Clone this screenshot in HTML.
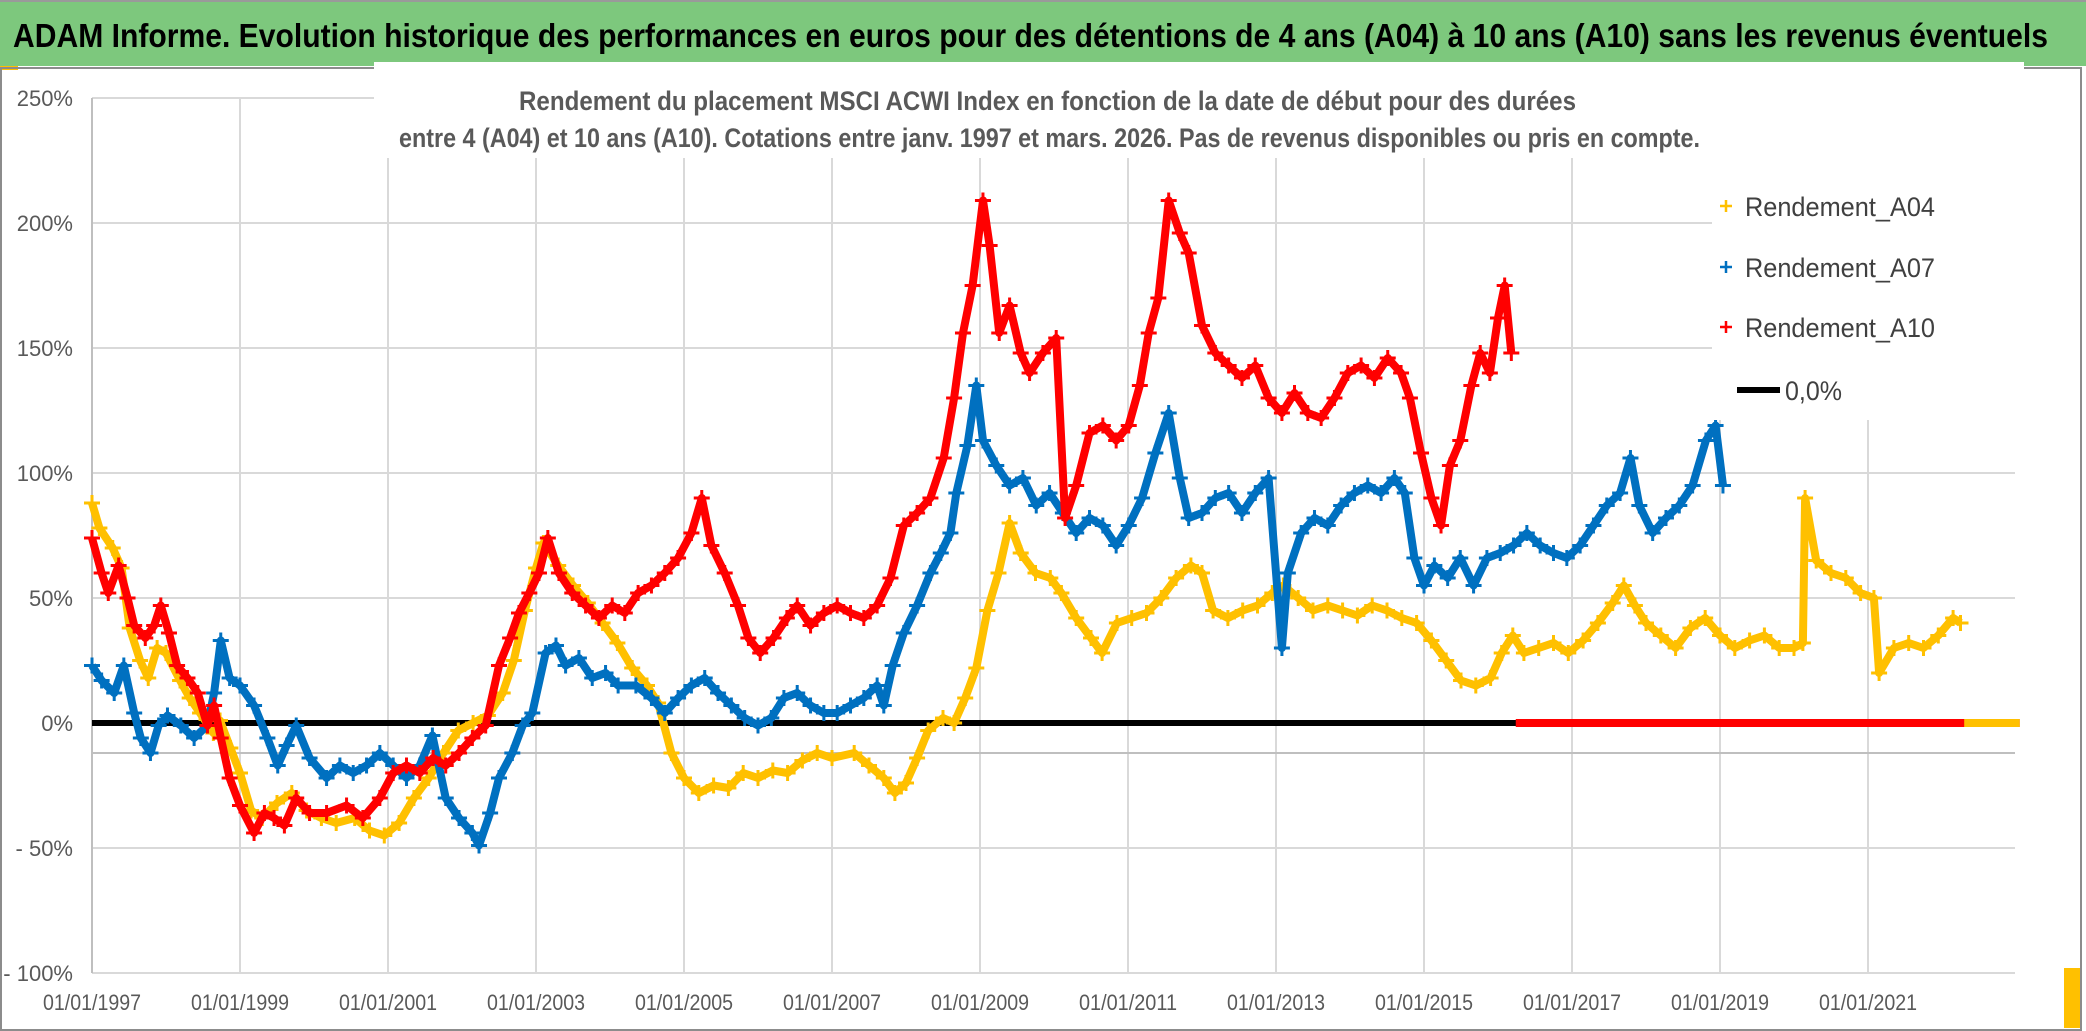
<!DOCTYPE html>
<html><head><meta charset="utf-8"><style>
html,body{margin:0;padding:0;background:#fff;}
svg{display:block;font-family:"Liberation Sans",sans-serif;}
</style></head><body>
<svg id="chart" width="2086" height="1031" viewBox="0 0 2086 1031">
<rect x="0" y="0" width="2086" height="1031" fill="#ffffff"/>
<rect x="0" y="0" width="2086" height="66" fill="#7dc87d"/>
<line x1="0" y1="1" x2="2086" y2="1" stroke="#9a9a9a" stroke-width="2"/>
<text x="13" y="47" font-size="33" font-weight="bold" fill="#000" textLength="2035" lengthAdjust="spacingAndGlyphs">ADAM Informe. Evolution historique des performances en euros pour des détentions de 4 ans (A04) à 10 ans (A10) sans les revenus éventuels</text>
<rect x="0" y="66" width="18" height="4" fill="#ffc000"/>
<rect x="1" y="68" width="2080" height="962" fill="none" stroke="#8c8c8c" stroke-width="2"/>
<rect x="2064" y="968" width="16" height="60" fill="#ffc000"/>
<g id="grid"></g>
<g id="yticks"></g>
<g id="xticks"></g>
<g id="marks"></g>
<rect x="374" y="62" width="1650" height="96" fill="#fff"/>
<text x="519" y="110" font-size="27" font-weight="bold" fill="#595959" textLength="1057" lengthAdjust="spacingAndGlyphs">Rendement du placement MSCI ACWI Index en fonction de la date de début pour des durées</text>
<text x="399" y="147" font-size="27" font-weight="bold" fill="#595959" textLength="1301" lengthAdjust="spacingAndGlyphs">entre 4 (A04) et 10 ans (A10). Cotations entre janv. 1997 et mars. 2026. Pas de revenus disponibles ou pris en compte.</text>
<g>
<rect x="1712" y="158" width="310" height="262" fill="#fff"/>
<g><path d="M1720 206h12M1726 200v12" stroke="#ffc000" stroke-width="2.5"/><text x="1745" y="216" font-size="27" fill="#404040" textLength="190" lengthAdjust="spacingAndGlyphs">Rendement_A04</text></g>
<g><path d="M1720 267h12M1726 261v12" stroke="#0070c0" stroke-width="2.5"/><text x="1745" y="277" font-size="27" fill="#404040" textLength="190" lengthAdjust="spacingAndGlyphs">Rendement_A07</text></g>
<g><path d="M1720 327h12M1726 321v12" stroke="#ff0000" stroke-width="2.5"/><text x="1745" y="337" font-size="27" fill="#404040" textLength="190" lengthAdjust="spacingAndGlyphs">Rendement_A10</text></g>
<g><line x1="1737" y1="390" x2="1780" y2="390" stroke="#000" stroke-width="6"/><text x="1785" y="400" font-size="27" fill="#404040" textLength="57" lengthAdjust="spacingAndGlyphs">0,0%</text></g>
</g>
</svg>
<script>
const yTickValues=[250,200,150,100,50,0,-50,-100];
const yTickLabels=["250%","200%","150%","100%","50%","0%","- 50%","- 100%"];
const xTickYears=[1997,1999,2001,2003,2005,2007,2009,2011,2013,2015,2017,2019,2021];
const xTickLabels=["01/01/1997","01/01/1999","01/01/2001","01/01/2003","01/01/2005","01/01/2007","01/01/2009","01/01/2011","01/01/2013","01/01/2015","01/01/2017","01/01/2019","01/01/2021"];
const zeroLine=[0];
const a04Years=[1997.00,1997.10,1997.28,1997.40,1997.51,1997.65,1997.76,1997.88,1998.00,1998.19,1998.32,1998.46,1998.64,1998.73,1998.87,1999.00,1999.15,1999.30,1999.50,1999.70,1999.90,2000.10,2000.30,2000.55,2000.75,2000.95,2001.15,2001.35,2001.55,2001.75,2001.95,2002.15,2002.35,2002.55,2002.70,2002.85,2003.00,2003.10,2003.30,2003.50,2003.70,2003.90,2004.10,2004.30,2004.50,2004.65,2004.83,2005.00,2005.20,2005.40,2005.60,2005.80,2006.00,2006.20,2006.40,2006.60,2006.80,2007.00,2007.30,2007.50,2007.70,2007.85,2008.00,2008.15,2008.30,2008.50,2008.65,2008.80,2008.95,2009.10,2009.25,2009.40,2009.55,2009.75,2009.95,2010.10,2010.30,2010.50,2010.65,2010.85,2011.05,2011.25,2011.45,2011.65,2011.85,2012.00,2012.15,2012.35,2012.55,2012.75,2012.95,2013.10,2013.30,2013.50,2013.70,2013.90,2014.10,2014.30,2014.50,2014.70,2014.90,2015.10,2015.30,2015.50,2015.70,2015.90,2016.05,2016.20,2016.35,2016.55,2016.75,2016.95,2017.15,2017.35,2017.55,2017.70,2017.85,2018.00,2018.20,2018.40,2018.60,2018.80,2019.00,2019.20,2019.40,2019.60,2019.80,2020.00,2020.12,2020.15,2020.30,2020.50,2020.70,2020.90,2021.08,2021.15,2021.35,2021.55,2021.75,2021.95,2022.15,2022.25];
const a04Values=[88,78,70,62,38,25,18,30,28,17,10,4,-4,1,-10,-20,-35,-38,-32,-28,-35,-38,-40,-38,-43,-45,-40,-30,-22,-12,-3,0,3,12,25,45,62,72,63,55,48,40,32,22,15,8,-12,-22,-28,-25,-26,-20,-22,-19,-20,-15,-12,-14,-12,-17,-22,-28,-24,-14,-3,2,0,10,22,45,60,80,68,60,58,52,42,34,28,40,42,44,50,58,63,60,45,42,45,47,52,55,50,45,47,45,43,47,45,42,40,33,25,17,15,18,28,35,28,30,32,28,33,40,48,55,47,40,35,30,38,42,35,30,33,35,30,30,32,90,65,60,58,52,50,20,30,32,30,35,42,40];
const a04ZeroRange=[2022.30,2023.05];
const a07Years=[1997.00,1997.13,1997.30,1997.43,1997.57,1997.66,1997.79,1997.90,1998.02,1998.20,1998.38,1998.56,1998.65,1998.74,1998.86,1999.00,1999.19,1999.37,1999.51,1999.63,1999.76,1999.94,2000.17,2000.35,2000.53,2000.71,2000.89,2001.07,2001.25,2001.43,2001.60,2001.78,2001.96,2002.14,2002.23,2002.38,2002.50,2002.68,2002.82,2002.95,2003.13,2003.27,2003.40,2003.58,2003.76,2003.94,2004.11,2004.35,2004.56,2004.74,2004.92,2005.10,2005.28,2005.46,2005.64,2005.82,2006.00,2006.18,2006.35,2006.53,2006.71,2006.89,2007.07,2007.25,2007.43,2007.61,2007.70,2007.82,2007.97,2008.15,2008.33,2008.47,2008.60,2008.68,2008.83,2008.95,2009.04,2009.22,2009.40,2009.58,2009.76,2009.94,2010.12,2010.30,2010.48,2010.66,2010.84,2011.01,2011.19,2011.37,2011.55,2011.70,2011.82,2012.00,2012.18,2012.36,2012.54,2012.72,2012.90,2013.08,2013.16,2013.34,2013.52,2013.70,2013.88,2014.06,2014.24,2014.42,2014.60,2014.74,2014.87,2015.00,2015.14,2015.32,2015.49,2015.67,2015.85,2016.03,2016.21,2016.39,2016.57,2016.75,2016.93,2017.11,2017.29,2017.47,2017.65,2017.79,2017.91,2018.09,2018.27,2018.45,2018.63,2018.81,2018.94,2019.04];
const a07Values=[23,17,12,23,4,-6,-12,-1,3,-1,-6,-1,12,33,18,15,7,-6,-17,-9,-1,-14,-22,-17,-20,-17,-12,-17,-22,-17,-5,-30,-38,-44,-49,-36,-22,-12,-1,4,28,31,23,26,18,20,15,15,10,4,10,15,18,12,7,2,-1,2,10,12,7,4,4,7,10,15,7,23,36,47,60,68,76,92,111,135,113,103,95,98,87,92,84,76,82,79,71,79,90,108,124,98,82,84,90,92,84,92,98,30,60,76,82,79,87,92,95,92,98,92,66,55,63,58,66,55,66,68,71,76,71,68,66,71,79,87,92,106,87,76,82,87,95,113,119,95];
const a10Years=[1997.00,1997.13,1997.22,1997.36,1997.48,1997.57,1997.72,1997.84,1997.93,1998.04,1998.15,1998.29,1998.43,1998.56,1998.65,1998.74,1998.86,1999.00,1999.19,1999.33,1999.46,1999.60,1999.76,1999.94,2000.17,2000.44,2000.66,2000.89,2001.07,2001.25,2001.43,2001.61,2001.78,2001.96,2002.14,2002.32,2002.50,2002.65,2002.77,2002.91,2003.04,2003.16,2003.31,2003.49,2003.67,2003.85,2004.03,2004.20,2004.38,2004.56,2004.74,2004.92,2005.10,2005.24,2005.37,2005.55,2005.73,2005.87,2006.03,2006.21,2006.39,2006.53,2006.71,2006.89,2007.07,2007.25,2007.43,2007.61,2007.79,2007.97,2008.15,2008.33,2008.51,2008.65,2008.77,2008.90,2009.04,2009.13,2009.26,2009.40,2009.55,2009.67,2009.85,2010.03,2010.15,2010.30,2010.48,2010.66,2010.84,2011.01,2011.16,2011.28,2011.41,2011.55,2011.70,2011.82,2012.00,2012.18,2012.36,2012.54,2012.72,2012.90,2013.08,2013.25,2013.43,2013.61,2013.79,2013.97,2014.15,2014.33,2014.51,2014.69,2014.81,2014.96,2015.10,2015.23,2015.35,2015.49,2015.64,2015.76,2015.89,2016.00,2016.09,2016.18];
const a10Values=[74,60,52,63,50,39,34,39,47,36,23,18,12,-1,7,-6,-22,-33,-44,-36,-38,-41,-30,-36,-36,-33,-38,-30,-20,-17,-20,-14,-17,-12,-6,-1,23,34,44,52,60,74,60,52,47,42,47,44,52,55,60,66,76,90,71,60,47,34,28,34,42,47,39,44,47,44,42,47,58,79,84,90,106,130,156,175,209,191,156,167,148,140,148,154,82,95,116,119,113,119,135,156,170,209,196,188,159,148,143,138,143,130,124,132,124,122,130,140,143,138,146,140,130,108,90,79,103,113,135,148,140,162,175,148];
const a10ZeroRange=[2016.24,2023.05];

const NS="http://www.w3.org/2000/svg";
const X0=92,PX_PER_YEAR=74,Y0=723,PX_PER_PCT=2.5;
function xs(y){return X0+(y-1997)*PX_PER_YEAR;}
function ys(v){return Y0-v*PX_PER_PCT;}
function mk(tag,attrs,parent){const e=document.createElementNS(NS,tag);for(const k in attrs)e.setAttribute(k,attrs[k]);parent.appendChild(e);return e;}

const grid=document.getElementById('grid');
yTickValues.forEach(v=>{
  const l=mk('line',{x1:X0,x2:2015,y1:ys(v),y2:ys(v),stroke:'#d9d9d9','stroke-width':2},grid);
  
  
});
xTickYears.forEach(y=>{
  const l=mk('line',{x1:xs(y),x2:xs(y),y1:ys(250),y2:ys(-100),stroke:'#d9d9d9','stroke-width':2},grid);
  
  
});
const ax=mk('line',{x1:X0,x2:2015,y1:753,y2:753,stroke:'#bfbfbf','stroke-width':2},grid);


const ay=mk('line',{x1:X0,x2:X0,y1:ys(250),y2:ys(-100),stroke:'#bfbfbf','stroke-width':2},grid);



const yt=document.getElementById('yticks');
yTickValues.forEach((v,i)=>{
  const t=mk('text',{x:73,y:ys(v)+8,'text-anchor':'end','font-size':22,fill:'#595959'},yt);
  t.textContent=yTickLabels[i];
  
  
});
const xt=document.getElementById('xticks');
xTickYears.forEach((y,i)=>{
  const t=mk('text',{x:xs(y)-49,y:1010,'font-size':22,fill:'#595959',textLength:98,lengthAdjust:'spacingAndGlyphs'},xt);
  t.textContent=xTickLabels[i];
  
  
});

const marks=document.getElementById('marks');
const zl=mk('line',{x1:X0,x2:2018,y1:ys(zeroLine[0]),y2:ys(zeroLine[0]),stroke:'#000','stroke-width':6},marks);



function drawSeries(years,vals,color,name){
  const g=mk('g',{},marks);
  
  
  let d='';
  years.forEach((y,i)=>{d+=(i?'L':'M')+xs(y).toFixed(1)+' '+ys(vals[i]).toFixed(1);});
  mk('path',{d:d,fill:'none',stroke:color,'stroke-width':8,'stroke-linejoin':'round'},g);
  years.forEach((y,i)=>{
    const cx=xs(y),cy=ys(vals[i]);
    const p=mk('path',{d:`M${cx-8} ${cy}h16M${cx} ${cy-8}v16`,stroke:color,'stroke-width':3},g);
    
    
  });
}
function drawZero(range,color,name){
  const l=mk('line',{x1:xs(range[0]),x2:xs(range[1]),y1:ys(0),y2:ys(0),stroke:color,'stroke-width':8},marks);
  
  
}
drawSeries(a04Years,a04Values,'#ffc000','series-a04');
drawSeries(a07Years,a07Values,'#0070c0','series-a07');
drawSeries(a10Years,a10Values,'#ff0000','series-a10');
drawZero(a10ZeroRange,'#ff0000','series-a10-zeros');
drawZero(a04ZeroRange,'#ffc000','series-a04-zeros');
</script>
</body></html>
